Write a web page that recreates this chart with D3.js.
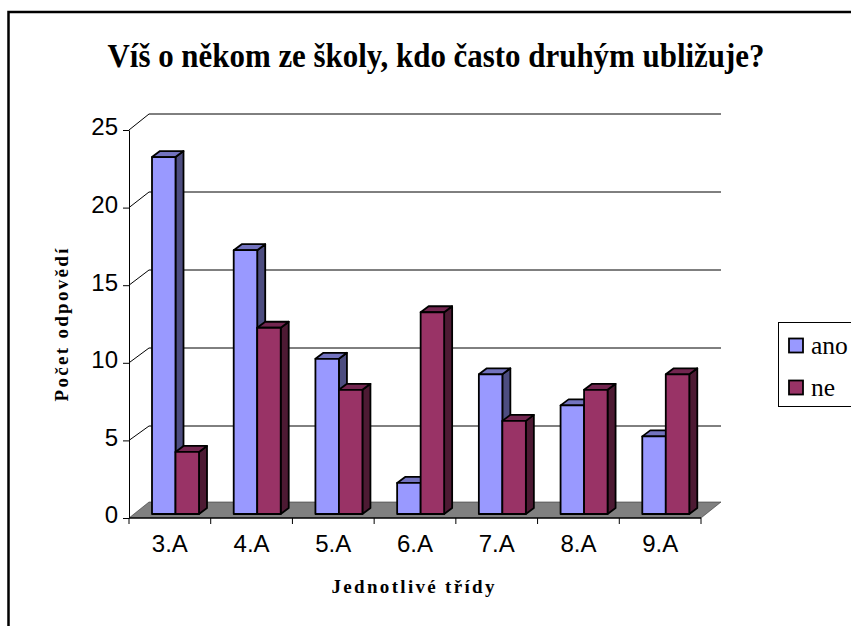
<!DOCTYPE html>
<html>
<head>
<meta charset="utf-8">
<script src="https://cdnjs.cloudflare.com/ajax/libs/d3/7.8.5/d3.min.js"></script>
<style>
  html, body { margin: 0; padding: 0; background: #fff; overflow: hidden; }
  svg { display: block; }
  .serif { font-family: "Liberation Serif", serif; }
  .sans { font-family: "Liberation Sans", Arial, sans-serif; }
</style>
</head>
<body>
<svg id="chart" width="851" height="626"></svg>
<script>
// values
var classes = ["3.A", "4.A", "5.A", "6.A", "7.A", "8.A", "9.A"];
var seriesNames = ["ano", "ne"];
var ano = [23, 17, 10, 2, 9, 7, 5];
var ne = [4, 12, 8, 13, 6, 8, 9];
var yTicks = [0, 5, 10, 15, 20, 25];

var front = ["#9999ff", "#993366"];
var side = ["#4d4d80", "#4d1a33"];
var top_ = ["#7373bf", "#732650"];

var svg = d3.select("#chart");

// outer frame, runs off the page on the right and bottom
svg.append("rect").attr("x", 8.5).attr("y", 12).attr("width", 900).attr("height", 700)
  .attr("fill", "#fff").attr("stroke", "#000").attr("stroke-width", 2.5);

var x = d3.scaleBand().domain(classes).range([129, 701]);
var y = d3.scaleLinear().domain([0, 25]).range([518, 130]);
// the back wall has its own slightly different scale in the original
var yBack = d3.scaleLinear().domain([0, 25]).range([504, 114]);
var inner = d3.scaleBand().domain(seriesNames).range([0, 47]);

// depth of the box and of the bars
var wallDx = 20, floorDy = -16;
var barDx = 8, barDy = -6;
var barShiftX = 23, barShiftY = -4;

// floor
var x0 = x.range()[0], x1 = x.range()[1];
var floorPts = [[x0, y(0)], [x0 + wallDx, y(0) + floorDy], [x1 + wallDx, y(0) + floorDy], [x1, y(0)]];
svg.append("path")
  .attr("d", d3.line()(floorPts) + "Z")
  .attr("fill", "#808080").attr("stroke", "none");

// grid on the back wall plus the slanted bit on the side wall
var grid = svg.append("g").attr("fill", "none").attr("stroke", "#000").attr("stroke-width", 1);
yTicks.forEach(function (t) {
  if (t > 0) {
    grid.append("path")
      .attr("d", d3.line()([[x0, y(t)], [x0 + wallDx, yBack(t)], [x1 + wallDx, yBack(t)]]));
  }
});
grid.append("path").attr("d", d3.line()(floorPts))
  .attr("stroke", "#333").attr("stroke-width", 0.6);

// bars
function drawBar(g, i, left, w, val) {
  var bx = left, by = y(val) + barShiftY, bb = y(0) + barShiftY;
  var line = d3.line();
  g.append("path")
    .attr("d", line([[bx + w, by], [bx + w + barDx, by + barDy], [bx + w + barDx, bb + barDy], [bx + w, bb]]) + "Z")
    .attr("fill", side[i]);
  g.append("path")
    .attr("d", line([[bx, by], [bx + barDx, by + barDy], [bx + w + barDx, by + barDy], [bx + w, by]]) + "Z")
    .attr("fill", top_[i]);
  g.append("rect").attr("x", bx).attr("y", by).attr("width", w).attr("height", bb - by)
    .attr("fill", front[i]);
}

var bars = svg.append("g").attr("stroke", "#000").attr("stroke-width", 1.8).attr("stroke-linejoin", "round");
classes.forEach(function (c, k) {
  var g = bars.append("g");
  drawBar(g, 0, x(c) + barShiftX + inner("ano"), inner.bandwidth(), ano[k]);
  drawBar(g, 1, x(c) + barShiftX + inner("ne"), inner.bandwidth(), ne[k]);
});

// axes
var yAxis = d3.axisLeft(y).tickValues(yTicks).tickSize(6).tickPadding(5).tickSizeOuter(0);
var gy = svg.append("g").attr("transform", "translate(129,0)").call(yAxis);
gy.selectAll("text").attr("class", "sans").attr("font-size", 24).attr("fill", "#000").attr("dy", "0.2em");
gy.selectAll("line,path").attr("stroke", "#000");

var xAxis = d3.axisBottom(x).tickSize(0).tickPadding(17);
var gx = svg.append("g").attr("transform", "translate(0,518)").call(xAxis);
gx.selectAll("text").attr("class", "sans").attr("font-size", 24).attr("fill", "#000");
gx.select("path").attr("stroke", "#000").attr("stroke-width", 1.5).attr("d", "M129,0H701");
// category ticks sit between the labels
svg.append("g").attr("transform", "translate(0,518)").selectAll("line")
  .data(classes.concat(["end"])).join("line")
  .attr("x1", function (d, i) { return x0 + i * x.step(); })
  .attr("x2", function (d, i) { return x0 + i * x.step(); })
  .attr("y1", 0).attr("y2", 6).attr("stroke", "#000");

// titles
svg.append("text").attr("class", "serif").attr("x", 436).attr("y", 67)
  .attr("text-anchor", "middle").attr("font-size", 34).attr("font-weight", "bold")
  .attr("textLength", 657).attr("lengthAdjust", "spacingAndGlyphs")
  .text("Víš o někom ze školy, kdo často druhým ubližuje?");

svg.append("text").attr("class", "serif").attr("x", 413).attr("y", 593)
  .attr("text-anchor", "middle").attr("font-size", 19).attr("font-weight", "bold")
  .attr("textLength", 163).text("Jednotlivé třídy");

svg.append("text").attr("class", "serif")
  .attr("transform", "translate(68,325) rotate(-90)")
  .attr("text-anchor", "middle").attr("font-size", 19).attr("font-weight", "bold")
  .attr("textLength", 153).text("Počet odpovědí");

// legend
svg.append("rect").attr("x", 778.5).attr("y", 322.5).attr("width", 90).attr("height", 84)
  .attr("fill", "#fff").attr("stroke", "#000");
var leg = svg.append("g").selectAll("g").data(seriesNames).join("g")
  .attr("transform", function (d, i) { return "translate(789," + (338.5 + i * 42) + ")"; });
leg.append("rect").attr("width", 14).attr("height", 14)
  .attr("fill", function (d, i) { return front[i]; })
  .attr("stroke", "#000").attr("stroke-width", 1.8);
leg.append("text").attr("class", "serif").attr("x", 22).attr("y", 15)
  .attr("font-size", 25.5).attr("fill", "#000").text(function (d) { return d; });
</script>
</body>
</html>
